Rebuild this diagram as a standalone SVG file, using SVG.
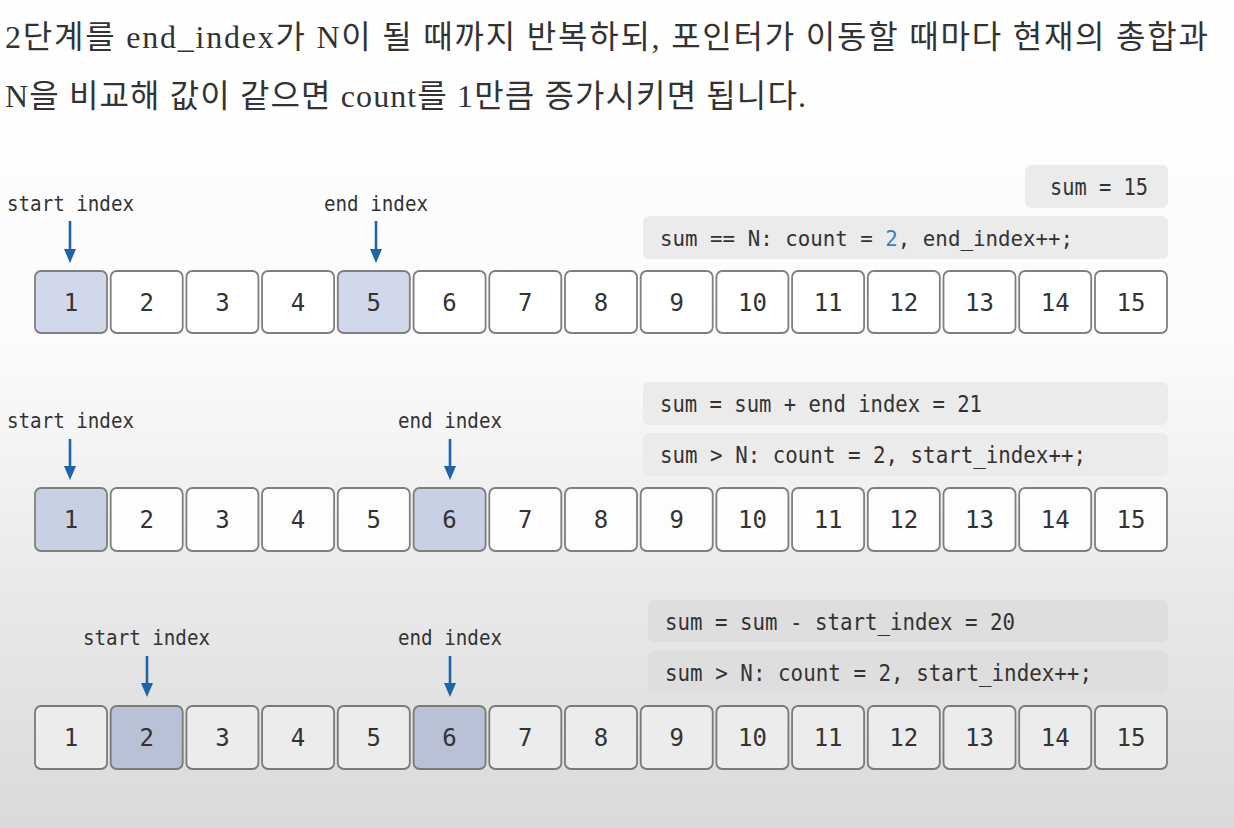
<svg xmlns="http://www.w3.org/2000/svg" width="1234" height="828" viewBox="0 0 1234 828">
  <defs>
    <linearGradient id="bg" x1="0" y1="0" x2="0" y2="1">
      <stop offset="0" stop-color="#ffffff"/>
      <stop offset="0.42" stop-color="#fbfbfb"/>
      <stop offset="0.7" stop-color="#eaeaea"/>
      <stop offset="1" stop-color="#dadada"/>
    </linearGradient>
    <marker id="ahd" viewBox="0 0 14 12" refX="0" refY="6" markerWidth="14" markerHeight="12" orient="auto" markerUnits="userSpaceOnUse">
      <path d="M0,0 L14,6 L0,12 Z" fill="#1d64a8"/>
    </marker>
  </defs>
  <style>
    .top { font-family: "Liberation Serif", "Noto Sans CJK KR", serif; font-size: 32px; fill: #333333; }
    .lbl { font-family: "DejaVu Sans Mono", "Liberation Mono", monospace; font-size: 22px; fill: #333333; }
    .num { font-family: "DejaVu Sans Mono", "Liberation Mono", monospace; font-size: 24px; fill: #333333; text-anchor: middle; }
    .code { font-family: "DejaVu Sans Mono", "Liberation Mono", monospace; font-size: 22.5px; fill: #333333; }
    .code2 { font-family: "DejaVu Sans Mono", "Liberation Mono", monospace; font-size: 20.8px; fill: #333333; }
    .cbox { fill: #ebebeb; }
    .cbox3 { fill: #dedede; }
    .b1 { fill: #ffffff; stroke: #7f7f7f; stroke-width: 1.8; }
    .h1 { fill: #d0d8ea; stroke: #7f7f7f; stroke-width: 1.8; }
    .b2 { fill: #fdfdfd; stroke: #7f7f7f; stroke-width: 1.8; }
    .h2 { fill: #c8d0e4; stroke: #7f7f7f; stroke-width: 1.8; }
    .b3 { fill: #ececec; stroke: #7a7a7a; stroke-width: 1.8; }
    .h3 { fill: #b9c1d6; stroke: #7a7a7a; stroke-width: 1.8; }
    .arr { stroke: #1d64a8; stroke-width: 2.6; fill: none; }
    .hl { fill: #3d7fc0; }
  </style>

  <rect x="0" y="0" width="1234" height="828" fill="url(#bg)"/>

  <g id="intro">
    <text class="top" x="5" y="48" textLength="1203" lengthAdjust="spacing">2단계를 end_index가 N이 될 때까지 반복하되, 포인터가 이동할 때마다 현재의 총합과</text>
    <text class="top" x="5" y="107" textLength="801" lengthAdjust="spacing">N을 비교해 값이 같으면 count를 1만큼 증가시키면 됩니다.</text>
  </g>

  <!-- Row 1 -->
  <g id="row1-code">
    <rect class="cbox" x="1025" y="165" width="143" height="43" rx="6"/>
    <text class="code" x="1050" y="195" textLength="98" lengthAdjust="spacingAndGlyphs">sum = 15</text>
    <rect class="cbox" x="643" y="216" width="525" height="43" rx="6"/>
    <text class="code2" x="660" y="246">sum == N: count =</text>
    <text class="code2 hl" x="885.3" y="246">2</text>
    <text class="code2" x="897.8" y="246">, end_index++;</text>
  </g>
  <g id="row1-labels">
    <text class="lbl" x="7" y="211" textLength="127" lengthAdjust="spacingAndGlyphs">start index</text>
    <text class="lbl" x="324" y="211" textLength="104" lengthAdjust="spacingAndGlyphs">end index</text>
  </g>
  <g id="row1-array">
    <rect class="h1" x="35" y="271" width="72" height="62" rx="6"/>
    <rect class="b1" x="110.7" y="271" width="72" height="62" rx="6"/>
    <rect class="b1" x="186.4" y="271" width="72" height="62" rx="6"/>
    <rect class="b1" x="262.1" y="271" width="72" height="62" rx="6"/>
    <rect class="h1" x="337.8" y="271" width="72" height="62" rx="6"/>
    <rect class="b1" x="413.6" y="271" width="72" height="62" rx="6"/>
    <rect class="b1" x="489.3" y="271" width="72" height="62" rx="6"/>
    <rect class="b1" x="565" y="271" width="72" height="62" rx="6"/>
    <rect class="b1" x="640.7" y="271" width="72" height="62" rx="6"/>
    <rect class="b1" x="716.4" y="271" width="72" height="62" rx="6"/>
    <rect class="b1" x="792.1" y="271" width="72" height="62" rx="6"/>
    <rect class="b1" x="867.8" y="271" width="72" height="62" rx="6"/>
    <rect class="b1" x="943.5" y="271" width="72" height="62" rx="6"/>
    <rect class="b1" x="1019.2" y="271" width="72" height="62" rx="6"/>
    <rect class="b1" x="1095" y="271" width="72" height="62" rx="6"/>
    <g class="num">
      <text x="71" y="311">1</text><text x="146.7" y="311">2</text><text x="222.4" y="311">3</text>
      <text x="298.1" y="311">4</text><text x="373.8" y="311">5</text><text x="449.6" y="311">6</text>
      <text x="525.3" y="311">7</text><text x="601" y="311">8</text><text x="676.7" y="311">9</text>
      <text x="752.4" y="311">10</text><text x="828.1" y="311">11</text><text x="903.8" y="311">12</text>
      <text x="979.5" y="311">13</text><text x="1055.2" y="311">14</text><text x="1131" y="311">15</text>
    </g>
  </g>

  <!-- Row 2 -->
  <g id="row2-code">
    <rect class="cbox" x="643" y="382" width="525" height="43" rx="6"/>
    <text class="code" x="660" y="412" textLength="322" lengthAdjust="spacingAndGlyphs">sum = sum + end index = 21</text>
    <rect class="cbox" x="643" y="433" width="525" height="43" rx="6"/>
    <text class="code" x="660" y="463" textLength="426" lengthAdjust="spacingAndGlyphs">sum &gt; N: count = 2, start_index++;</text>
  </g>
  <g id="row2-labels">
    <text class="lbl" x="7" y="428" textLength="127" lengthAdjust="spacingAndGlyphs">start index</text>
    <text class="lbl" x="398" y="428" textLength="104" lengthAdjust="spacingAndGlyphs">end index</text>
  </g>
  <g id="row2-array">
    <rect class="h2" x="35" y="488" width="72" height="63" rx="6"/>
    <rect class="b2" x="110.7" y="488" width="72" height="63" rx="6"/>
    <rect class="b2" x="186.4" y="488" width="72" height="63" rx="6"/>
    <rect class="b2" x="262.1" y="488" width="72" height="63" rx="6"/>
    <rect class="b2" x="337.8" y="488" width="72" height="63" rx="6"/>
    <rect class="h2" x="413.6" y="488" width="72" height="63" rx="6"/>
    <rect class="b2" x="489.3" y="488" width="72" height="63" rx="6"/>
    <rect class="b2" x="565" y="488" width="72" height="63" rx="6"/>
    <rect class="b2" x="640.7" y="488" width="72" height="63" rx="6"/>
    <rect class="b2" x="716.4" y="488" width="72" height="63" rx="6"/>
    <rect class="b2" x="792.1" y="488" width="72" height="63" rx="6"/>
    <rect class="b2" x="867.8" y="488" width="72" height="63" rx="6"/>
    <rect class="b2" x="943.5" y="488" width="72" height="63" rx="6"/>
    <rect class="b2" x="1019.2" y="488" width="72" height="63" rx="6"/>
    <rect class="b2" x="1095" y="488" width="72" height="63" rx="6"/>
    <g class="num">
      <text x="71" y="528">1</text><text x="146.7" y="528">2</text><text x="222.4" y="528">3</text>
      <text x="298.1" y="528">4</text><text x="373.8" y="528">5</text><text x="449.6" y="528">6</text>
      <text x="525.3" y="528">7</text><text x="601" y="528">8</text><text x="676.7" y="528">9</text>
      <text x="752.4" y="528">10</text><text x="828.1" y="528">11</text><text x="903.8" y="528">12</text>
      <text x="979.5" y="528">13</text><text x="1055.2" y="528">14</text><text x="1131" y="528">15</text>
    </g>
  </g>

  <!-- Row 3 -->
  <g id="row3-code">
    <rect class="cbox3" x="648" y="600" width="520" height="42" rx="6"/>
    <text class="code" x="665" y="630" textLength="350" lengthAdjust="spacingAndGlyphs">sum = sum - start_index = 20</text>
    <rect class="cbox3" x="648" y="651" width="520" height="42" rx="6"/>
    <text class="code" x="665" y="681" textLength="427" lengthAdjust="spacingAndGlyphs">sum &gt; N: count = 2, start_index++;</text>
  </g>
  <g id="row3-labels">
    <text class="lbl" x="83" y="645" textLength="127" lengthAdjust="spacingAndGlyphs">start index</text>
    <text class="lbl" x="398" y="645" textLength="104" lengthAdjust="spacingAndGlyphs">end index</text>
  </g>
  <g id="row3-array">
    <rect class="b3" x="35" y="706" width="72" height="63" rx="6"/>
    <rect class="h3" x="110.7" y="706" width="72" height="63" rx="6"/>
    <rect class="b3" x="186.4" y="706" width="72" height="63" rx="6"/>
    <rect class="b3" x="262.1" y="706" width="72" height="63" rx="6"/>
    <rect class="b3" x="337.8" y="706" width="72" height="63" rx="6"/>
    <rect class="h3" x="413.6" y="706" width="72" height="63" rx="6"/>
    <rect class="b3" x="489.3" y="706" width="72" height="63" rx="6"/>
    <rect class="b3" x="565" y="706" width="72" height="63" rx="6"/>
    <rect class="b3" x="640.7" y="706" width="72" height="63" rx="6"/>
    <rect class="b3" x="716.4" y="706" width="72" height="63" rx="6"/>
    <rect class="b3" x="792.1" y="706" width="72" height="63" rx="6"/>
    <rect class="b3" x="867.8" y="706" width="72" height="63" rx="6"/>
    <rect class="b3" x="943.5" y="706" width="72" height="63" rx="6"/>
    <rect class="b3" x="1019.2" y="706" width="72" height="63" rx="6"/>
    <rect class="b3" x="1095" y="706" width="72" height="63" rx="6"/>
    <g class="num">
      <text x="71" y="746">1</text><text x="146.7" y="746">2</text><text x="222.4" y="746">3</text>
      <text x="298.1" y="746">4</text><text x="373.8" y="746">5</text><text x="449.6" y="746">6</text>
      <text x="525.3" y="746">7</text><text x="601" y="746">8</text><text x="676.7" y="746">9</text>
      <text x="752.4" y="746">10</text><text x="828.1" y="746">11</text><text x="903.8" y="746">12</text>
      <text x="979.5" y="746">13</text><text x="1055.2" y="746">14</text><text x="1131" y="746">15</text>
    </g>
  </g>

  <g id="connectors">
    <line class="arr" x1="70" y1="221" x2="70" y2="249" marker-end="url(#ahd)"/>
    <line class="arr" x1="376" y1="221" x2="376" y2="249" marker-end="url(#ahd)"/>
    <line class="arr" x1="70" y1="439" x2="70" y2="466" marker-end="url(#ahd)"/>
    <line class="arr" x1="450" y1="439" x2="450" y2="466" marker-end="url(#ahd)"/>
    <line class="arr" x1="147" y1="656" x2="147" y2="683" marker-end="url(#ahd)"/>
    <line class="arr" x1="450" y1="656" x2="450" y2="683" marker-end="url(#ahd)"/>
  </g>
</svg>
